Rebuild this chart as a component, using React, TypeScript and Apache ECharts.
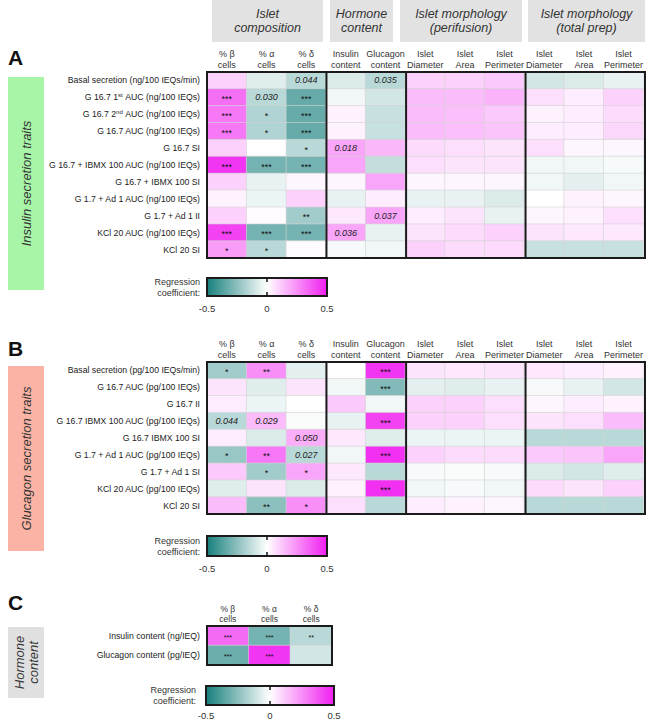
import React, { useEffect, useRef } from 'react';
import * as echarts from 'echarts';

const FONT = '"Liberation Sans", Arial, sans-serif';

// ---------- data ----------
const colLabels = ['% β\ncells', '% α\ncells', '% δ\ncells', 'Insulin\ncontent', 'Glucagon\ncontent', 'Islet\nDiameter', 'Islet\nArea', 'Islet\nPerimeter', 'Islet\nDiameter', 'Islet\nArea', 'Islet\nPerimeter'];
const hormoneCols = ['% β\ncells', '% α\ncells', '% δ\ncells'];

const groupHeaders = ['Islet\ncomposition', 'Hormone\ncontent', 'Islet morphology\n(perifusion)', 'Islet morphology\n(total prep)'];
const groupEdges = [3, 5, 8];

const insulinRows = [
  'Basal secretion (ng/100 IEQs/min)',
  'G 16.7 1{sup|st} AUC (ng/100 IEQs)',
  'G 16.7 2{sup|nd} AUC (ng/100 IEQs)',
  'G 16.7 AUC (ng/100 IEQs)',
  'G 16.7 SI',
  'G 16.7 + IBMX 100 AUC (ng/100 IEQs)',
  'G 16.7 + IBMX 100 SI',
  'G 1.7 + Ad 1 AUC (ng/100 IEQs)',
  'G 1.7 + Ad 1 II',
  'KCl 20 AUC (ng/100 IEQs)',
  'KCl 20 SI',
];
const insulinValues = [
  [0.1, -0.07, -0.15, -0.08, -0.15, 0.1, 0.1, 0.12, -0.1, -0.08, -0.05],
  [0.32, -0.15, -0.33, -0.03, -0.1, 0.15, 0.15, 0.17, 0.07, 0.04, 0.1],
  [0.3, -0.17, -0.33, 0.03, -0.12, 0.15, 0.14, 0.12, 0.03, 0.04, 0.08],
  [0.3, -0.17, -0.33, 0.03, -0.12, 0.15, 0.14, 0.13, 0.04, 0.04, 0.09],
  [0.1, 0.0, -0.15, 0.2, 0.16, 0.08, 0.07, 0.06, 0.07, 0.02, 0.02],
  [0.45, -0.3, -0.3, 0.2, -0.13, 0.07, 0.06, 0.06, -0.03, -0.03, -0.02],
  [0.1, -0.05, 0.02, 0.02, 0.2, 0.02, 0.02, 0.02, -0.03, -0.06, -0.03],
  [0.03, -0.04, 0.1, -0.05, 0.04, -0.05, -0.05, -0.08, 0.0, 0.03, 0.02],
  [0.1, 0.01, -0.2, 0.05, 0.2, 0.04, 0.06, -0.05, 0.02, 0.03, 0.07],
  [0.42, -0.3, -0.3, 0.2, -0.05, 0.06, 0.08, 0.1, 0.06, 0.05, 0.05],
  [0.22, -0.15, 0.01, -0.02, -0.03, 0.1, 0.08, 0.08, -0.12, -0.12, -0.12],
];
const insulinSig = [
  ['', '', '0.044', '', '0.035'],
  ['***', '0.030', '***'],
  ['***', '*', '***'],
  ['***', '*', '***'],
  ['', '', '*', '0.018'],
  ['***', '***', '***'],
  [],
  [],
  ['', '', '**', '', '0.037'],
  ['***', '***', '***', '0.036'],
  ['*', '*', ''],
];

const glucagonRows = [
  'Basal secretion (pg/100 IEQs/min)',
  'G 16.7 AUC (pg/100 IEQs)',
  'G 16.7 II',
  'G 16.7 IBMX 100 AUC (pg/100 IEQs)',
  'G 16.7 IBMX 100 SI',
  'G 1.7 + Ad 1 AUC (pg/100 IEQs)',
  'G 1.7 + Ad 1 SI',
  'KCl 20 AUC (pg/100 IEQs)',
  'KCl 20 SI',
];
const glucagonValues = [
  [-0.2, 0.25, -0.06, 0.0, 0.45, 0.06, 0.05, 0.06, 0.05, 0.04, 0.03],
  [0.06, -0.07, 0.06, -0.03, -0.27, -0.06, -0.07, -0.05, -0.02, -0.05, -0.1],
  [0.04, -0.04, 0.0, 0.12, -0.03, 0.1, 0.1, 0.07, 0.02, 0.04, 0.03],
  [-0.15, 0.15, -0.01, -0.05, 0.42, 0.1, 0.1, 0.07, 0.06, 0.07, 0.15],
  [0.04, -0.08, 0.18, 0.05, -0.07, -0.04, -0.04, -0.04, -0.15, -0.15, -0.15],
  [-0.22, 0.3, -0.15, -0.03, 0.46, 0.1, 0.08, 0.08, 0.12, 0.13, 0.2],
  [0.12, -0.2, 0.2, 0.05, -0.15, -0.02, -0.01, -0.02, -0.08, -0.1, -0.07],
  [-0.07, 0.06, -0.08, 0.03, 0.46, -0.03, -0.02, -0.03, 0.08, 0.06, 0.1],
  [0.15, -0.25, 0.25, 0.07, -0.15, 0.04, 0.03, 0.02, -0.15, -0.15, -0.15],
];
const glucagonSig = [
  ['*', '**', '', '', '***'],
  ['', '', '', '', '***'],
  [],
  ['0.044', '0.029', '', '', '***'],
  ['', '', '0.050'],
  ['*', '**', '0.027', '', '***'],
  ['', '*', '*'],
  ['', '', '', '', '***'],
  ['', '**', '*'],
];

const hormoneRows = ['Insulin content (ng/IEQ)', 'Glucagon content (pg/IEQ)'];
const hormoneValues = [
  [0.33, -0.3, -0.15],
  [-0.32, 0.45, -0.1],
];
const hormoneSig = [
  ['***', '***', '**'],
  ['***', '***', ''],
];

const scaleMin = -0.5;
const scaleMax = 0.5;
const scaleTicks = ['-0.5', '0', '0.5'];
const paletteColors = ['#17807d', '#ffffff', '#f01ef0'];

// ---------- layout ----------
const panels = [
  { grid: { left: 207, top: 72, width: 438, height: 186 }, cols: colLabels, rows: insulinRows, values: insulinValues, sig: insulinSig, edges: groupEdges, axisSize: 9, cellSize: 9,
    letter: 'A', letterY: 57, side: { y: 77, h: 213, fill: '#a8f5a8', text: 'Insulin secretion traits' },
    bar: { x: 207, y: 278, w: 120, h: 18, tickY: 308, labelX: 200 } },
  { grid: { left: 207, top: 362, width: 438, height: 152 }, cols: colLabels, rows: glucagonRows, values: glucagonValues, sig: glucagonSig, edges: groupEdges, axisSize: 9, cellSize: 9,
    letter: 'B', letterY: 348, side: { y: 366, h: 185, fill: '#fab3a4', text: 'Glucagon secretion traits' },
    bar: { x: 207, y: 536, w: 120, h: 20, tickY: 568, labelX: 200 } },
  { grid: { left: 207, top: 626, width: 125, height: 39 }, cols: hormoneCols, rows: hormoneRows, values: hormoneValues, sig: hormoneSig, edges: [] as number[], axisSize: 8.5, cellSize: 7,
    letter: 'C', letterY: 602, side: { y: 627, h: 71, fill: '#e0e0e0', text: 'Hormone\ncontent' },
    bar: { x: 206, y: 686, w: 128, h: 19, tickY: 715, labelX: 196 } },
];

const headerBoxes = [
  { x: 212, w: 111 },
  { x: 330, w: 63 },
  { x: 400, w: 122 },
  { x: 528, w: 117 },
];

export default function App() {
  const ref = useRef<HTMLDivElement>(null);
  useEffect(() => {
    document.body.style.margin = '0';
    const chart = echarts.init(ref.current!, null, { renderer: 'svg' });

    const grids: any[] = [];
    const xAxes: any[] = [];
    const yAxes: any[] = [];
    const series: any[] = [];
    const graphics: any[] = [];

    panels.forEach((p, i) => {
      grids.push({ ...p.grid });
      xAxes.push({
        gridIndex: i, type: 'category', data: p.cols, position: 'top',
        axisLine: { show: false }, axisTick: { show: false }, splitLine: { show: false },
        axisLabel: { interval: 0, fontSize: p.axisSize, color: '#333', lineHeight: p.axisSize + 1.5, margin: 2, fontFamily: FONT },
      });
      yAxes.push({
        gridIndex: i, type: 'category', data: p.rows, inverse: true,
        axisLine: { show: false }, axisTick: { show: false }, splitLine: { show: false },
        axisLabel: {
          interval: 0, fontSize: 8.7, color: '#222', margin: 7, fontFamily: FONT,
          formatter: (v: string) => v,
          rich: { sup: { fontSize: 6, padding: [0, 0, 5, 0], color: '#222', fontFamily: FONT } },
        },
      });
      const data: any[] = [];
      p.values.forEach((row, r) => row.forEach((v, c) => {
        data.push({ value: [c, r, v], sig: (p.sig[r] && p.sig[r][c]) || '' });
      }));
      series.push({
        type: 'heatmap', xAxisIndex: i, yAxisIndex: i, data,
        itemStyle: { borderColor: '#d4d4d4', borderWidth: 0.6 },
        emphasis: { disabled: true },
        label: {
          show: true, color: '#111', fontSize: p.cellSize, fontFamily: FONT,
          formatter: (prm: any) => {
            const s = prm.data.sig;
            if (!s) return '';
            return /^\d/.test(s) ? `{i|${s}}` : `{s|${s}}`;
          },
          rich: {
            i: { fontStyle: 'italic', fontSize: 9, color: '#222', fontFamily: FONT },
            s: { fontSize: p.cellSize, color: '#111', fontFamily: FONT, padding: [3, 0, 0, 0] },
          },
        },
      });

      // outline & group separators
      const g = p.grid;
      graphics.push({ type: 'rect', shape: { x: g.left, y: g.top, width: g.width, height: g.height },
        style: { fill: 'none', stroke: '#1b1b1b', lineWidth: 2 }, z: 100 });
      p.edges.forEach((k) => {
        const x = g.left + (g.width * k) / p.cols.length;
        graphics.push({ type: 'line', shape: { x1: x, y1: g.top, x2: x, y2: g.top + g.height },
          style: { stroke: '#1b1b1b', lineWidth: 2 }, z: 100 });
      });

      // panel letter
      graphics.push({ type: 'text', x: 8, y: p.letterY, style: { text: p.letter, fontSize: 21, fontWeight: 'bold', fill: '#111', fontFamily: FONT, verticalAlign: 'middle' } });
      // side box
      graphics.push({ type: 'rect', shape: { x: 8, y: p.side.y, width: 36, height: p.side.h }, style: { fill: p.side.fill } });
      graphics.push({ type: 'text', x: 26, y: p.side.y + p.side.h / 2, rotation: Math.PI / 2,
        style: { text: p.side.text, fontSize: 13, fontStyle: 'italic', fill: '#333', fontFamily: FONT, align: 'center', verticalAlign: 'middle', lineHeight: 14 } });

      // colorbar
      const b = p.bar;
      graphics.push({ type: 'rect', shape: { x: b.x, y: b.y, width: b.w, height: b.h },
        style: {
          fill: new echarts.graphic.LinearGradient(0, 0, 1, 0, paletteColors.map((c, k) => ({ offset: k / (paletteColors.length - 1), color: c }))),
          stroke: '#1b1b1b', lineWidth: 2,
        } });
      const mid = b.x + b.w * ((0 - scaleMin) / (scaleMax - scaleMin));
      graphics.push({ type: 'line', shape: { x1: mid, y1: b.y, x2: mid, y2: b.y + 4 }, style: { stroke: '#111', lineWidth: 1.5 } });
      graphics.push({ type: 'line', shape: { x1: mid, y1: b.y + b.h - 4, x2: mid, y2: b.y + b.h }, style: { stroke: '#111', lineWidth: 1.5 } });
      scaleTicks.forEach((t, k) => {
        graphics.push({ type: 'text', x: b.x + (b.w * k) / (scaleTicks.length - 1), y: b.tickY,
          style: { text: t, fontSize: 9.5, fill: '#333', fontFamily: FONT, align: 'center', verticalAlign: 'middle' } });
      });
      graphics.push({ type: 'text', x: b.labelX, y: b.y + b.h / 2,
        style: { text: 'Regression\ncoefficient:', fontSize: 9, fill: '#333', fontFamily: FONT, align: 'right', verticalAlign: 'middle', lineHeight: 11 } });
    });

    headerBoxes.forEach((h, k) => {
      graphics.push({ type: 'rect', shape: { x: h.x, y: 0, width: h.w, height: 42 }, style: { fill: '#e2e2e2' } });
      graphics.push({ type: 'text', x: h.x + h.w / 2, y: 21,
        style: { text: groupHeaders[k], fontSize: 12.5, fontStyle: 'italic', fill: '#333', fontFamily: FONT, align: 'center', verticalAlign: 'middle', lineHeight: 14 } });
    });

    chart.setOption({
      animation: false,
      textStyle: { fontFamily: FONT },
      grid: grids,
      xAxis: xAxes,
      yAxis: yAxes,
      visualMap: [{ type: 'continuous', show: false, min: scaleMin, max: scaleMax, dimension: 2, seriesIndex: [0, 1, 2], inRange: { color: paletteColors } }],
      series,
      graphic: graphics,
    });
    return () => chart.dispose();
  }, []);
  return <div ref={ref} style={{ width: 646, height: 719 }} />;
}
